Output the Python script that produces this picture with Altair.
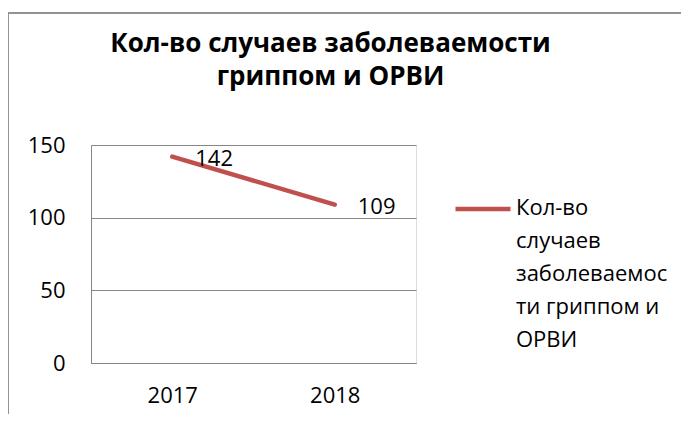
import altair as alt
import pandas as pd

years = ["2017", "2018"]
cases = [142, 109]
series_name = "Кол-во случаев заболеваемости гриппом и ОРВИ"
legend_lines = ["Кол-во", "случаев", "заболеваемос", "ти гриппом и", "ОРВИ"]
title_lines = ["Кол-во случаев заболеваемости", "гриппом и ОРВИ"]
y_ticks = [0, 50, 100, 150]

df = pd.DataFrame({"year": years, "cases": cases, "series": [series_name] * len(years)})

FONT = "Open Sans"
RED = "#C0504D"
GRID = "#868686"

label_expr = "[" + ",".join("'" + s + "'" for s in legend_lines) + "]"

x_enc = alt.X("year:O", title=None,
              axis=alt.Axis(labelAngle=0, labelFont=FONT, labelFontSize=22, labelColor="black",
                            ticks=False, labelPadding=22, domainColor=GRID, domainWidth=1))
y_enc = alt.Y("cases:Q", title=None,
              scale=alt.Scale(domain=[0, 150], nice=False),
              axis=alt.Axis(values=y_ticks, labelFont=FONT, labelFontSize=22, labelColor="black",
                            ticks=False, labelPadding=26, domainColor=GRID, gridColor=GRID,
                            grid=True, gridWidth=1))

line = alt.Chart(df).mark_line(strokeWidth=4.5, strokeCap="round").encode(
    x=x_enc, y=y_enc,
    color=alt.Color("series:N", scale=alt.Scale(range=[RED]),
                    legend=alt.Legend(orient="none", legendX=362, legendY=40, title=None,
                                      symbolType="M-1,-0.22H1", symbolSize=3025,
                                      symbolStrokeWidth=4.5,
                                      labelExpr=label_expr, labelFont=FONT, labelFontSize=22,
                                      labelColor="black", labelOffset=3, labelLimit=0,
                                      labelBaseline="alphabetic"))
)

labels = alt.Chart(df).mark_text(align="left", baseline="middle", dx=23, dy=2,
                                 font=FONT, fontSize=22, color="black").encode(
    x="year:O", y="cases:Q", text="cases:Q"
)

border = alt.Chart(df).mark_rule(color="#8C8C8C", strokeWidth=1.5).encode(
    x=alt.value(-83), x2=alt.value(-83), y=alt.value(-132), y2=alt.value(275)
)
border_top = alt.Chart(df).mark_rule(color="#8C8C8C", strokeWidth=1.5).encode(
    x=alt.value(-83), x2=alt.value(600), y=alt.value(-132), y2=alt.value(-132)
)

chart = alt.layer(border, border_top, line, labels).properties(
    width=325, height=218,
    title=alt.TitleParams(text=title_lines, font=FONT, fontSize=26, fontWeight="bold",
                          color="black", anchor="middle", dx=77, offset=-78, lineHeight=33),
    autosize=alt.AutoSizeParams(type="none"),
    padding={"left": 83, "top": 137, "right": 265, "bottom": 51},
).configure_view(stroke=None).configure(
    style={"guide-label": {"lineHeight": 33}}
)

chart.save("out.html", embed_options={"renderer": "svg", "actions": False})
